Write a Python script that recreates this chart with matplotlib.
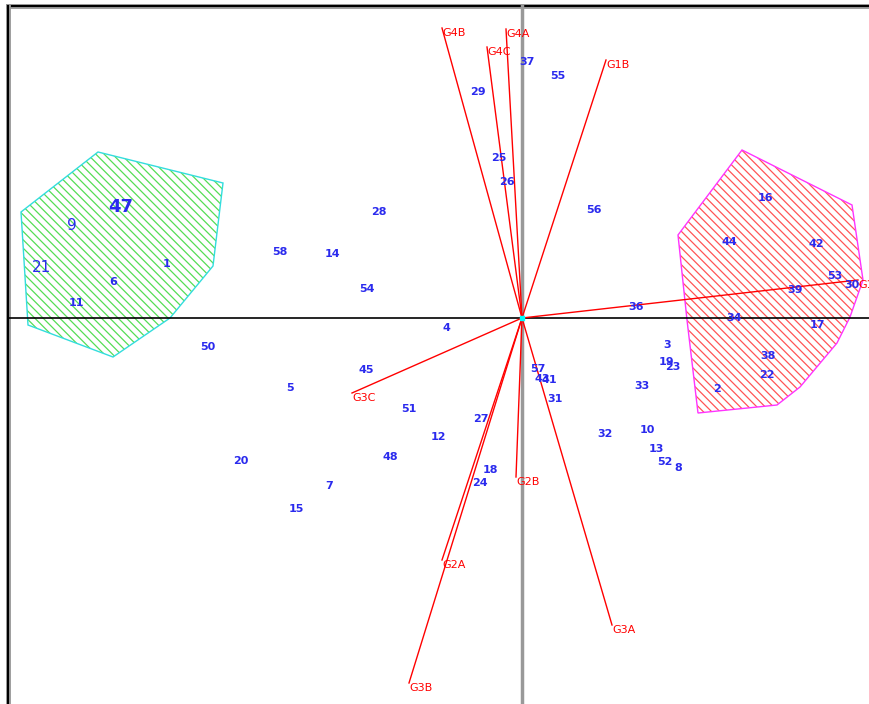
import matplotlib.pyplot as plt
from matplotlib.patches import Polygon

# observation scores (label, x, y) on the first two axes
point_ids = ['1', '2', '3', '4', '5', '6', '7', '8', '9', '10', '11', '12', '13', '14',
             '15', '16', '17', '18', '19', '20', '21', '22', '23', '24', '25', '26',
             '27', '28', '29', '31', '32', '33', '34', '36', '37', '38', '39', '41',
             '42', '43', '44', '45', '47', '48', '50', '51', '52', '53', '30', '54',
             '55', '56', '57', '58']
point_x = [-355, 195, 145, -76, -232, -409, -193, 156, -450, 125, -446, -84, 134, -189,
           -226, 244, 295, -32, 145, -281, -480, 245, 151, -42, -23, -15,
           -41, -143, -44, 33, 83, 120, 212, 114, 5, 246, 273, 27,
           294, 20, 207, -156, -401, -132, -314, -113, 143, 313, 330, -155,
           36, 72, 16, -242]
point_y = [54, -71, -27, -10, -70, 36, -168, -150, 92, -112, 15, -119, -131, 64,
           -191, 120, -7, -152, -44, -143, 50, -57, -49, -165, 160, 136,
           -101, 106, 226, -81, -116, -68, 0, 11, 256, -38, 28, -62,
           74, -61, 76, -52, 111, -139, -29, -91, -144, 42, 33, 29,
           242, 108, -51, 66]

# variable loadings
var_names = ['G4B', 'G4A', 'G4C', 'G1B', 'G1A', 'G3C', 'G2A', 'G3B', 'G2B', 'G3A']
var_x = [-80, -16, -35, 84, 336, -170, -80, -113, -6, 90]
var_y = [290, 289, 271, 258, 38, -75, -242, -365, -159, -307]

# group hulls
group1_x = [-424, -299, -309, -352, -409, -494, -501]
group1_y = [166, 135, 52, 0, -39, -7, 106]
group2_x = [220, 330, 341, 328, 315, 278, 255, 176, 165, 156]
group2_y = [168, 113, 38, 1, -25, -69, -87, -95, -2, 83]

big_labels = {'47': (13, 'bold'), '9': (11, 'normal'), '21': (11, 'normal')}

fig = plt.figure(figsize=(8.7, 7.04), dpi=100)
ax = fig.add_axes([0, 0, 1, 1])
ax.set_xlim(-522, 348)
ax.set_ylim(-386, 318)
ax.axis('off')

# frame (top and left edges)
ax.plot([-514, 348], [312, 312], color='#999999', lw=3.5, zorder=1)
ax.plot([-514, 348], [312, 312], color='black', lw=1.5, zorder=1)
ax.plot([-514, -514], [-386, 312], color='#999999', lw=3.5, zorder=1)
ax.plot([-514, -514], [-386, 312], color='black', lw=1.5, zorder=1)

# hatched hulls
plt.rcParams['hatch.linewidth'] = 0.9
for gx, gy, hc, ec in [(group1_x, group1_y, '#55dd55', '#33dddd'),
                       (group2_x, group2_y, '#ff5555', '#ff33ff')]:
    pts = list(zip(gx, gy))
    ax.add_patch(Polygon(pts, closed=True, fill=False, hatch='\\\\\\\\',
                         edgecolor=hc, lw=0, zorder=2))
    ax.add_patch(Polygon(pts, closed=True, fill=False, edgecolor=ec, lw=1, zorder=3))

# axis lines through the origin
ax.plot([0, 0], [-386, 312], color='#999999', lw=2.5, zorder=4)
ax.plot([-514, 348], [0, 0], color='black', lw=1.2, zorder=4)

# loading vectors
for name, vx, vy in zip(var_names, var_x, var_y):
    ax.plot([0, vx], [0, vy], color='red', lw=1, zorder=5)
    ax.text(vx, vy, name, color='red', fontsize=8, ha='left', va='top',
            zorder=6)
ax.plot([0], [0], marker='s', color='cyan', ms=3, zorder=6)

# observation labels
for pid, px, py in zip(point_ids, point_x, point_y):
    size, weight = big_labels.get(pid, (8, 'bold'))
    ax.text(px, py, pid, color='#2a2aee', fontsize=size, fontweight=weight,
            ha='center', va='center', zorder=7)

fig.savefig('out.png', dpi=100)
